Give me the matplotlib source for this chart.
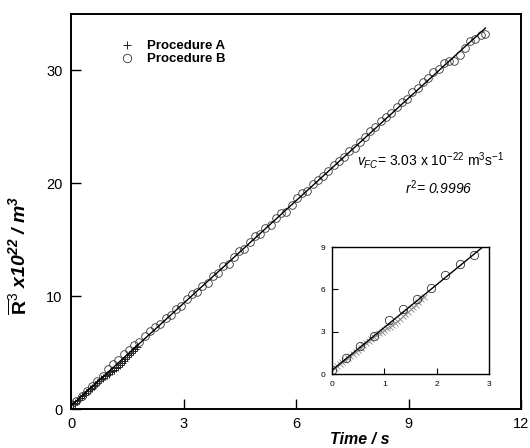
import matplotlib
matplotlib.use("Agg")
import matplotlib.pyplot as plt
import numpy as np

plt.rcParams['font.family'] = ['Liberation Sans', 'DejaVu Sans']
plt.rcParams['mathtext.fontset'] = 'custom'
plt.rcParams['mathtext.rm'] = 'Liberation Sans'
plt.rcParams['mathtext.it'] = 'Liberation Sans:italic'
plt.rcParams['mathtext.bf'] = 'Liberation Sans:bold'
try:
    plt.rcParams['mathtext.bfit'] = 'Liberation Sans:bold:italic'
    HAS_BFIT = True
except KeyError:
    HAS_BFIT = False

# Procedure B (circles)
time_B = [0.00, 0.14, 0.28, 0.42, 0.56, 0.70, 0.84, 0.98, 1.12, 1.26,
          1.40, 1.54, 1.68, 1.82, 1.96, 2.10, 2.24, 2.38, 2.52, 2.66,
          2.80, 2.94, 3.08, 3.22, 3.36, 3.50, 3.64, 3.78, 3.92, 4.06,
          4.20, 4.34, 4.48, 4.62, 4.76, 4.90, 5.04, 5.18, 5.32, 5.46,
          5.60, 5.74, 5.88, 6.02, 6.16, 6.30, 6.44, 6.58, 6.72, 6.86,
          7.00, 7.14, 7.28, 7.42, 7.56, 7.70, 7.84, 7.98, 8.12, 8.26,
          8.40, 8.54, 8.68, 8.82, 8.96, 9.10, 9.24, 9.38, 9.52, 9.66,
          9.80, 9.94, 10.08, 10.22, 10.36, 10.50, 10.64, 10.78, 10.92, 11.03]
R3_B = [0.10, 0.72, 1.15, 1.62, 2.00, 2.52, 2.90, 3.52, 3.99, 4.37,
        4.84, 5.22, 5.64, 5.96, 6.44, 6.91, 7.24, 7.56, 8.04, 8.36,
        8.83, 9.16, 9.78, 10.16, 10.33, 10.91, 11.18, 11.75, 12.08, 12.70,
        12.83, 13.50, 13.97, 14.15, 14.77, 15.30, 15.47, 16.05, 16.27, 16.89,
        17.37, 17.49, 18.12, 18.69, 19.11, 19.34, 19.91, 20.29, 20.61, 21.09,
        21.61, 21.98, 22.31, 22.88, 23.11, 23.68, 24.06, 24.63, 24.95, 25.48,
        25.85, 26.23, 26.80, 27.17, 27.50, 28.07, 28.40, 28.97, 29.30, 29.82,
        30.14, 30.62, 30.84, 30.87, 31.34, 31.97, 32.59, 32.81, 33.14, 33.25]

# Procedure A (crosses)
time_A = [0.05, 0.10, 0.15, 0.20, 0.25, 0.30, 0.35, 0.40, 0.45, 0.50,
          0.55, 0.60, 0.65, 0.70, 0.75, 0.80, 0.85, 0.90, 0.95, 1.00,
          1.05, 1.10, 1.15, 1.20, 1.25, 1.30, 1.35, 1.40, 1.45, 1.50,
          1.55, 1.60, 1.65, 1.70, 1.75]
R3_A = [0.40, 0.55, 0.68, 0.84, 0.98, 1.14, 1.28, 1.43, 1.58, 1.73,
        1.87, 2.02, 2.17, 2.31, 2.46, 2.62, 2.76, 2.88, 3.00, 3.12,
        3.24, 3.35, 3.48, 3.62, 3.76, 3.92, 4.08, 4.24, 4.40, 4.58,
        4.75, 4.92, 5.10, 5.28, 5.46]

# Inset circles
time_inset = [0.00, 0.27, 0.54, 0.81, 1.09, 1.36, 1.63, 1.89, 2.16, 2.44, 2.71]
R3_inset = [0.28, 1.11, 1.96, 2.69, 3.80, 4.60, 5.34, 6.07, 7.02, 7.78, 8.46]

# Linear fit
slope = 3.03
intercept = 0.27
fit_t = [0.0, 11.05]
fit_t_inset = [0.0, 3.0]

x_ticks = [0, 3, 6, 9, 12]
y_ticks = [0, 10, 20, 30]
inset_x_ticks = [0, 1, 2, 3]
inset_y_ticks = [0, 3, 6, 9]

fig = plt.figure(figsize=(5.3, 4.48), dpi=100)
ax = fig.add_axes([71/530, 1-409/448, 450/530, 395/448])

fit_y = [slope*t + intercept for t in fit_t]
ax.plot(fit_t, fit_y, color='black', lw=1.0, zorder=3)
ax.plot(time_A, R3_A, linestyle='none', marker='+', ms=5.5, mew=0.7,
        color='#222222', label='Procedure A', zorder=2)
ax.plot(time_B, R3_B, linestyle='none', marker='o', ms=5.5, mew=0.6,
        mfc='none', mec='#333333', label='Procedure B', zorder=2)

ax.set_xlim(0, 12)
ax.set_ylim(0, 35)
ax.set_xticks(x_ticks)
ax.set_yticks(y_ticks)
ax.tick_params(direction='in', length=7, width=1.0, labelsize=10.5, pad=6)
for s in ax.spines.values():
    s.set_linewidth(1.4)

ax.set_xlabel('Time / s', fontsize=11.5, fontweight='bold', style='italic')
ax.xaxis.set_label_coords((360-71)/450, -0.058)
if HAS_BFIT:
    ylab = r'$\mathbf{\overline{R}}^{\mathrm{3}}\ \mathbfit{x10}^{\mathbfit{22}}\ \mathbfit{/\ m}^{\mathbfit{3}}$'
else:
    ylab = r'$\mathbf{\overline{R}}^{\mathrm{3}}\ \mathbf{x10}^{\mathbf{22}}\ \mathbf{/\ m}^{\mathbf{3}}$'
ax.set_ylabel(ylab, fontsize=14)
ax.yaxis.set_label_coords(-0.09, (409-255)/395)

leg = ax.legend(loc='upper left', bbox_to_anchor=(0.083, 0.964), frameon=False,
                prop={'weight': 'bold', 'size': 9.5}, handletextpad=1.0,
                handlelength=1.0, labelspacing=0.05, markerscale=1.1)

ax.text(0.962, 0.630, r'$v_{FC}$= 3.03 x 10$^{-22}$ m$^{3}$s$^{-1}$', transform=ax.transAxes,
        ha='right', va='center', fontsize=10)
ax.text(0.893, 0.560, r'$r^{2}$= 0.9996', transform=ax.transAxes,
        ha='right', va='center', fontsize=10, style='italic')

# Inset
ins = fig.add_axes([332/530, 1-374/448, 157/530, 127/448])
ins.plot(fit_t_inset, [slope*t + intercept for t in fit_t_inset], color='black', lw=1.0, zorder=3)
ins.plot(time_A, R3_A, linestyle='none', marker='x', ms=4.5, mew=0.6,
         color='#888888', zorder=2)
ins.plot(time_inset, R3_inset, linestyle='none', marker='o', ms=6, mew=0.6,
         mfc='none', mec='#333333', zorder=2)
ins.set_xlim(0, 3)
ins.set_ylim(0, 9)
ins.set_xticks(inset_x_ticks)
ins.set_yticks(inset_y_ticks)
ins.tick_params(direction='in', length=4, width=0.8, labelsize=6, pad=5)
for s in ins.spines.values():
    s.set_linewidth(1.0)

fig.savefig('out.png', dpi=100)
